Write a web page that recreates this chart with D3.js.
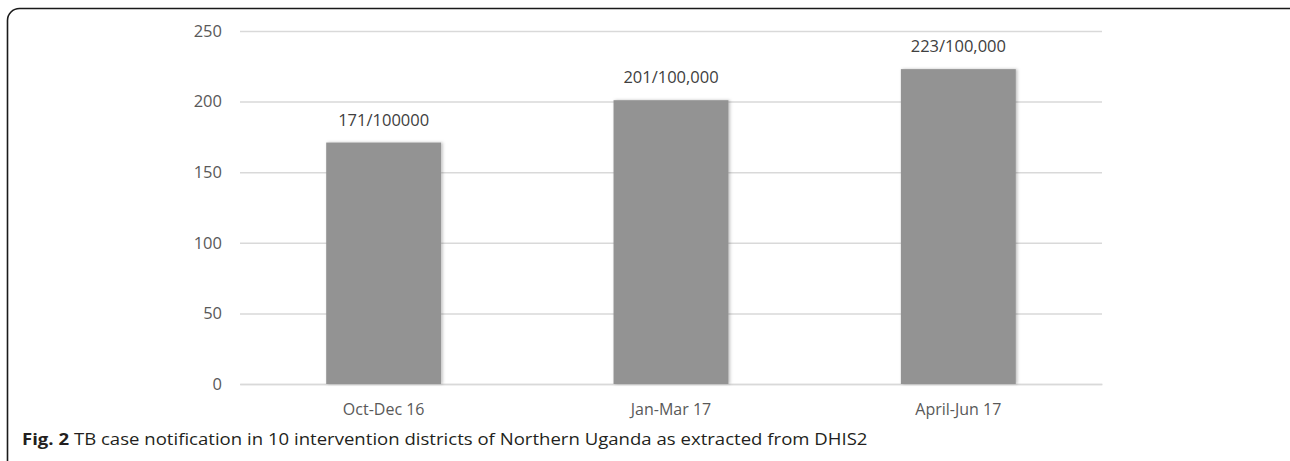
<!doctype html>
<html>
<head>
<meta charset="utf-8"/>
<script src="https://cdnjs.cloudflare.com/ajax/libs/d3/7.8.5/d3.min.js"></script>
<style>
  body { margin: 0; background: #fff; }
  svg { display: block; font-family: "Open Sans", sans-serif; }
</style>
</head>
<body>
<svg id="chart" width="1290" height="461"></svg>
<script>
// data
var categories = ["Oct-Dec 16", "Jan-Mar 17", "April-Jun 17"];
var values = [171, 201, 223];
var valueLabels = ["171/100000", "201/100,000", "223/100,000"];
var yTicks = [0, 50, 100, 150, 200, 250];

var svg = d3.select("#chart");

// outer frame of the figure
svg.append("rect")
  .attr("x", 7.5).attr("y", 8.5)
  .attr("width", 1300).attr("height", 470)
  .attr("rx", 12).attr("ry", 12)
  .attr("fill", "none").attr("stroke", "#1a1a1a").attr("stroke-width", 1.6);

var defs = svg.append("defs");
var f = defs.append("filter").attr("id", "shadow")
  .attr("x", "-10%").attr("y", "-10%").attr("width", "130%").attr("height", "120%");
f.append("feDropShadow").attr("dx", 1.5).attr("dy", 0).attr("stdDeviation", 1.5)
  .attr("flood-color", "#000").attr("flood-opacity", 0.25);

var plotLeft = 240, plotRight = 1102, plotTop = 31, plotBottom = 384;

var x = d3.scaleBand().domain(categories).range([plotLeft, plotRight]).paddingInner(0.6).paddingOuter(0.3);
var y = d3.scaleLinear().domain([0, 250]).range([plotBottom, plotTop]);

// gridlines + y labels
var yAxis = d3.axisLeft(y).tickValues(yTicks).tickSize(-(plotRight - plotLeft)).tickPadding(18);
var yg = svg.append("g").attr("transform", "translate(" + plotLeft + ",0)").call(yAxis);
yg.select(".domain").remove();
yg.selectAll("line").attr("stroke", "#d9d9d9").attr("stroke-width", 1.5);
yg.selectAll("text").attr("fill", "#595959").style("font-size", "16.5px")
  .style("font-family", "'Open Sans', sans-serif");

// x axis labels
var xAxis = d3.axisBottom(x).tickSize(0).tickPadding(20);
var xg = svg.append("g").attr("transform", "translate(0," + plotBottom + ")").call(xAxis);
xg.select(".domain").attr("stroke", "#d9d9d9").attr("stroke-width", 1.5);
xg.selectAll("text").attr("fill", "#595959").style("font-size", "16px")
  .style("font-family", "'Open Sans', sans-serif");

// bars
svg.selectAll("rect.bar").data(values).enter().append("rect")
  .attr("class", "bar")
  .attr("x", function(d, i) { return x(categories[i]); })
  .attr("width", x.bandwidth())
  .attr("y", function(d) { return y(d); })
  .attr("height", function(d) { return plotBottom - y(d); })
  .attr("fill", "#939393")
  .attr("filter", "url(#shadow)");

// value labels
svg.selectAll("text.val").data(values).enter().append("text")
  .attr("class", "val")
  .attr("x", function(d, i) { return x(categories[i]) + x.bandwidth() / 2; })
  .attr("y", function(d) { return y(d) - 17; })
  .attr("text-anchor", "middle")
  .attr("fill", "#404040")
  .style("font-size", "16.5px")
  .text(function(d, i) { return valueLabels[i]; });

// caption (stretched horizontally like the source image)
var cap = svg.append("text").attr("x", 0).attr("y", 0)
  .style("font-size", "16px").attr("fill", "#231f20");
cap.append("tspan").style("font-weight", "bold").text("Fig. 2");
cap.append("tspan").text(" TB case notification in 10 intervention districts of Northern Uganda as extracted from DHIS2");
var capW = cap.node().getBBox().width;
cap.attr("transform", "translate(22,445) scale(" + (846 / capW) + ",1)");
</script>
</body>
</html>
